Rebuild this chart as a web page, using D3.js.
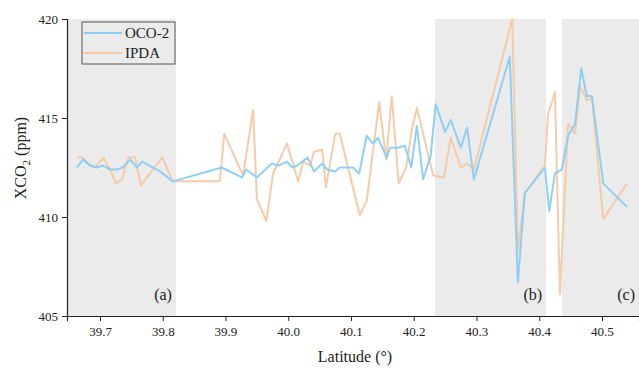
<!DOCTYPE html>
<html>
<head>
<meta charset="utf-8">
<script src="https://cdn.jsdelivr.net/npm/d3@7"></script>
<style>
    body { margin: 0; background: #fff; }
    svg { display: block; }
    text { font-family: "Liberation Serif", "Times New Roman", serif; fill: #222; }
</style>
</head>
<body>
<div id="chart"></div>
<script>
// data
var ocoLat = [39.663, 39.673, 39.684, 39.695, 39.705, 39.716, 39.727, 39.736, 39.748, 39.759, 39.767, 39.796, 39.816,
              39.894, 39.926, 39.933, 39.950, 39.974, 39.985, 39.998, 40.006, 40.014, 40.031, 40.041, 40.054, 40.062,
              40.075, 40.082, 40.103, 40.113, 40.125, 40.135, 40.143, 40.157, 40.162, 40.175, 40.186, 40.196, 40.205,
              40.215, 40.227, 40.235, 40.250, 40.259, 40.275, 40.285, 40.296, 40.353, 40.366, 40.377, 40.409, 40.416,
              40.425, 40.436, 40.446, 40.457, 40.467, 40.476, 40.484, 40.502, 40.540];
var ocoVal = [412.5, 412.9, 412.6, 412.5, 412.6, 412.4, 412.4, 412.5, 412.9, 412.5, 412.8, 412.3, 411.8,
              412.5, 412.0, 412.4, 412.0, 412.7, 412.6, 412.8, 412.5, 412.6, 413.0, 412.3, 412.7, 412.4,
              412.3, 412.5, 412.5, 412.2, 414.1, 413.7, 414.0, 413.0, 413.5, 413.5, 413.6, 412.5, 414.6,
              411.9, 413.1, 415.7, 414.3, 414.9, 413.5, 414.5, 411.9, 418.1, 406.7, 411.2, 412.5, 410.3,
              412.2, 412.4, 414.1, 414.7, 417.5, 416.1, 416.1, 411.7, 410.5];

var ipdaLat = [39.663, 39.673, 39.681, 39.692, 39.705, 39.716, 39.725, 39.735, 39.745, 39.756, 39.765, 39.799, 39.816,
               39.891, 39.898, 39.928, 39.944, 39.950, 39.965, 39.976, 39.998, 40.016, 40.024, 40.035, 40.041, 40.054,
               40.060, 40.075, 40.082, 40.114, 40.125, 40.145, 40.156, 40.165, 40.176, 40.188, 40.197, 40.205, 40.215,
               40.231, 40.248, 40.259, 40.275, 40.285, 40.296, 40.357, 40.366, 40.377, 40.409, 40.414, 40.425, 40.433,
               40.446, 40.457, 40.465, 40.476, 40.484, 40.502, 40.540];
var ipdaVal = [413.0, 413.0, 412.7, 412.5, 413.0, 412.4, 411.7, 411.9, 413.0, 413.0, 411.6, 413.0, 411.8,
               411.8, 414.2, 412.1, 415.4, 410.9, 409.8, 412.2, 413.7, 411.8, 412.8, 412.6, 413.3, 413.4,
               411.5, 414.2, 414.2, 410.1, 410.8, 415.8, 412.9, 416.1, 411.7, 412.5, 414.4, 415.5, 414.2,
               412.1, 412.0, 414.0, 412.5, 412.7, 412.4, 420.0, 408.3, 411.2, 412.6, 415.2, 416.3, 406.1,
               414.7, 414.2, 416.6, 415.9, 416.0, 409.9, 411.7];

var bandStart = [39.6474, 40.234, 40.436];     // shaded segments
var bandEnd = [39.821, 40.411, 40.559];
var bandLabel = ['(a)', '(b)', '(c)'];

var xTicks = [39.7, 39.8, 39.9, 40.0, 40.1, 40.2, 40.3, 40.4, 40.5];
var yTicks = [405, 410, 415, 420];

var seriesName = ['OCO-2', 'IPDA'];
var seriesColor = ['#88cdf6', '#f6c9a2'];

window.Chart = window.Chart || {};

Chart.init = function() {
    Chart.width = 639;
    Chart.height = 369;
    Chart.left = 67;            //plot box
    Chart.top = 19;
    Chart.bottom = 316;
    Chart.right = 639;

    Chart.svg = d3.select('#chart').append('svg')
                  .attr('width', Chart.width)
                  .attr('height', Chart.height);

    Chart.x = d3.scaleLinear()
                .domain([39.6474, 40.559])
                .range([Chart.left, Chart.right]);
    Chart.y = d3.scaleLinear()
                .domain([405, 420])
                .range([Chart.bottom, Chart.top]);

    Chart.drawBands();
    Chart.drawLines();
    Chart.drawAxes();
    Chart.drawLegend();
};

Chart.drawBands = function() {
    var g = Chart.svg.append('g');
    g.selectAll('rect').data(bandStart).enter().append('rect')
     .attr('x', function(d) { return Chart.x(d); })
     .attr('y', Chart.top)
     .attr('width', function(d, i) { return Chart.x(bandEnd[i]) - Chart.x(d); })
     .attr('height', Chart.bottom - Chart.top)
     .attr('fill', '#ebebeb');

    g.selectAll('text').data(bandLabel).enter().append('text')
     .attr('x', function(d, i) { return Chart.x(bandEnd[i]) - 4; })
     .attr('y', 300)
     .attr('text-anchor', 'end')
     .attr('font-size', 16)
     .text(function(d) { return d; });
};

Chart.drawLines = function() {
    var line = d3.line()
                 .x(function(d) { return Chart.x(d[0]); })
                 .y(function(d) { return Chart.y(d[1]); });

    var sets = [d3.zip(ocoLat, ocoVal), d3.zip(ipdaLat, ipdaVal)];
    // IPDA drawn first so OCO-2 sits on top
    [1, 0].forEach(function(i) {
        Chart.svg.append('path')
             .datum(sets[i])
             .attr('d', line)
             .attr('fill', 'none')
             .attr('stroke', seriesColor[i])
             .attr('stroke-width', 2)
             .attr('stroke-linejoin', 'round')
             .attr('opacity', 0.95);
    });
};

Chart.drawAxes = function() {
    var xMinor = xTicks.map(function(d) { return d + 0.05; }).concat([39.65]);
    var yMinor = [407.5, 412.5, 417.5];

    var gx = Chart.svg.append('g').attr('transform', 'translate(0,' + Chart.bottom + ')');
    gx.call(d3.axisBottom(Chart.x).tickValues(xMinor).tickSize(3).tickFormat(''));
    gx.call(d3.axisBottom(Chart.x).tickValues(xTicks).tickSize(5).tickPadding(6).tickFormat(d3.format('.1f')));

    var gy = Chart.svg.append('g').attr('transform', 'translate(' + Chart.left + ',0)');
    gy.call(d3.axisLeft(Chart.y).tickValues(yMinor).tickSize(3).tickFormat(''));
    gy.call(d3.axisLeft(Chart.y).tickValues(yTicks).tickSize(5).tickPadding(4).tickFormat(d3.format('d')));

    [gx, gy].forEach(function(g) {
        g.selectAll('.domain').attr('stroke', '#222').attr('stroke-width', 1.2);
        g.selectAll('.tick line').attr('stroke', '#222');
        g.selectAll('.tick text').attr('font-size', 13)
         .attr('font-family', '"Liberation Serif", serif').attr('fill', '#222');
    });

    Chart.svg.append('text')
         .attr('x', (Chart.left + Chart.right) / 2 + 2)
         .attr('y', 362)
         .attr('text-anchor', 'middle')
         .attr('font-size', 16)
         .text('Latitude (°)');

    var yt = Chart.svg.append('text')
                  .attr('transform', 'translate(26,158) rotate(-90)')
                  .attr('text-anchor', 'middle')
                  .attr('font-size', 16);
    yt.append('tspan').text('XCO');
    yt.append('tspan').attr('font-size', 11).attr('dy', 4).text('2');
    yt.append('tspan').attr('dy', -4).text(' (ppm)');
};

Chart.drawLegend = function() {
    var g = Chart.svg.append('g').attr('transform', 'translate(82,22)');
    g.append('rect')
     .attr('width', 93).attr('height', 42)
     .attr('fill', 'none')
     .attr('stroke', '#555').attr('stroke-width', 1);

    seriesName.forEach(function(name, i) {
        g.append('line')
         .attr('x1', 2).attr('x2', 40)
         .attr('y1', 11 + i * 20).attr('y2', 11 + i * 20)
         .attr('stroke', seriesColor[i]).attr('stroke-width', 2);
        g.append('text')
         .attr('x', 43).attr('y', 16 + i * 20)
         .attr('font-size', 15)
         .text(name);
    });
};

document.addEventListener('DOMContentLoaded', Chart.init);
</script>
</body>
</html>
